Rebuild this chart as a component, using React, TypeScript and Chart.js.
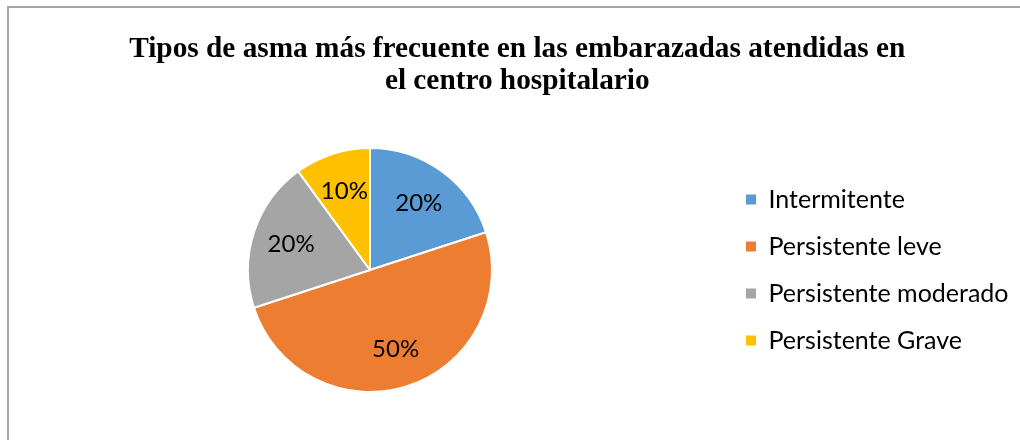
import { useEffect, useRef } from "react";
import { Chart, registerables } from "chart.js";

Chart.register(...registerables);

const TITLE_LINES = [
  "Tipos de asma más frecuente en las embarazadas atendidas en",
  "el centro hospitalario",
];
const CATEGORIES = [
  "Intermitente",
  "Persistente leve",
  "Persistente moderado",
  "Persistente Grave",
];
const PERCENTS = [20, 50, 20, 10];
const COLORS = ["#5B9BD5", "#ED7D31", "#A5A5A5", "#FFC000"];

const LEGEND_FONT = { family: "Lato", size: 25 };
const LABEL_FONT = { family: "Lato", size: 24 };
const LEGEND_PAD = 22;
const LEGEND_LEFT = 724;

const sliceLabels = {
  id: "sliceLabels",
  afterDatasetsDraw(chart: any) {
    const { ctx } = chart;
    const meta = chart.getDatasetMeta(0);
    ctx.save();
    ctx.font = `${LABEL_FONT.size}px ${LABEL_FONT.family}`;
    ctx.fillStyle = "#000000";
    ctx.textAlign = "center";
    ctx.textBaseline = "middle";
    meta.data.forEach((arc: any, i: number) => {
      const { x, y, startAngle, endAngle, outerRadius } = arc.getProps(
        ["x", "y", "startAngle", "endAngle", "outerRadius"],
        true
      );
      const mid = (startAngle + endAngle) / 2;
      const r = outerRadius * 0.68;
      ctx.fillText(
        `${chart.data.datasets[0].data[i]}%`,
        x + Math.cos(mid) * r,
        y + Math.sin(mid) * r
      );
    });
    ctx.restore();
  },
};

export default function App() {
  const canvasRef = useRef<HTMLCanvasElement | null>(null);

  useEffect(() => {
    const canvas = canvasRef.current;
    if (!canvas) return;
    const ctx = canvas.getContext("2d")!;
    ctx.font = `${LEGEND_FONT.size}px ${LEGEND_FONT.family}`;
    const maxText = Math.max(...CATEGORIES.map((c) => ctx.measureText(c).width));
    const legendWidth = LEGEND_PAD + 10 + LEGEND_FONT.size / 2 + maxText + 10;
    const padRight = Math.max(0, 1020 - LEGEND_LEFT - legendWidth);
    const defaultLabels = (Chart as any).overrides.pie.plugins.legend.labels.generateLabels;

    const chart = new Chart(canvas, {
      type: "pie",
      data: {
        labels: CATEGORIES,
        datasets: [
          {
            data: PERCENTS,
            backgroundColor: COLORS,
            borderColor: "#FFFFFF",
            borderWidth: 2,
            radius: 122,
          } as any,
        ],
      },
      options: {
        responsive: false,
        animation: false,
        devicePixelRatio: 1,
        layout: { padding: { left: 16, right: padRight, top: 0, bottom: 49 } },
        plugins: {
          title: {
            display: true,
            text: TITLE_LINES,
            color: "#000000",
            font: { family: "Liberation Serif", size: 29.3, weight: "bold", lineHeight: "32px" } as any,
            padding: { top: 33, bottom: 52 },
          },
          legend: {
            display: true,
            position: "right",
            fullSize: false,
            labels: {
              boxWidth: 10,
              boxHeight: 10,
              padding: LEGEND_PAD,
              color: "#000000",
              font: LEGEND_FONT,
              generateLabels: (c: any) =>
                defaultLabels(c).map((item: any) => ({ ...item, lineWidth: 0 })),
            },
          },
          tooltip: { enabled: false },
        },
      },
      plugins: [sliceLabels],
    });
    return () => chart.destroy();
  }, []);

  return (
    <div
      style={{
        position: "absolute",
        left: 0,
        top: 0,
        width: 1020,
        height: 440,
        overflow: "hidden",
        background: "#FFFFFF",
      }}
    >
      <div
        style={{
          position: "absolute",
          left: 7,
          top: 6,
          width: 1100,
          height: 600,
          border: "2px solid #A6A6A6",
        }}
      />
      <canvas
        ref={canvasRef}
        width={1020}
        height={440}
        style={{ position: "absolute", left: 0, top: 0, display: "block" }}
      />
    </div>
  );
}
